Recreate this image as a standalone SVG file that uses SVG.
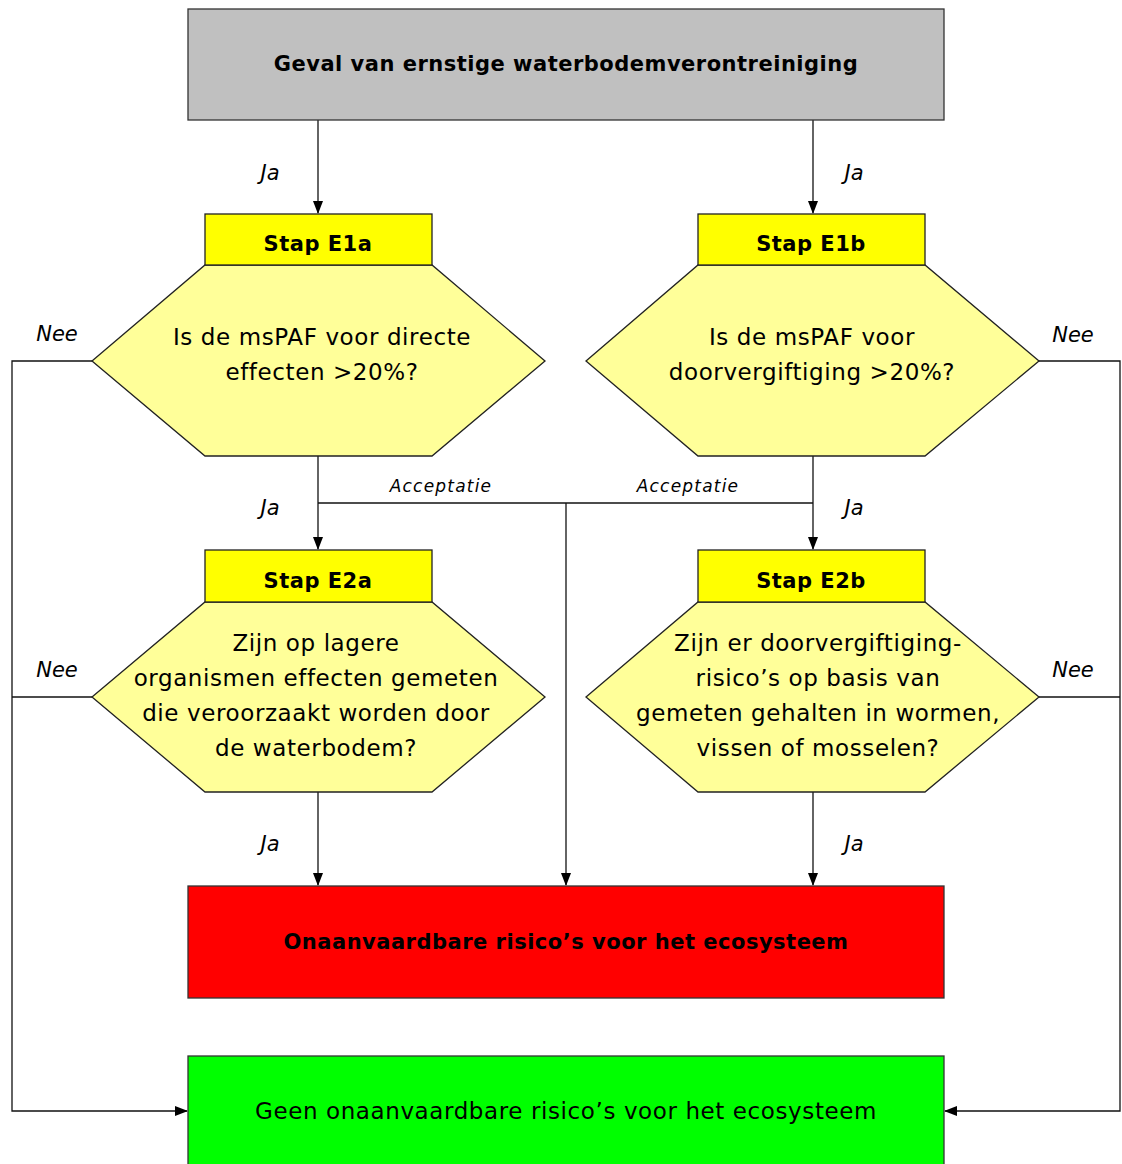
<svg xmlns="http://www.w3.org/2000/svg" width="1122" height="1164" viewBox="0 0 1122 1164">
<style>
.box{stroke:#333;stroke-width:1.3}
.hex{fill:#ffff99;stroke:#222;stroke-width:1.3}
.step{fill:#ffff00;stroke:#222;stroke-width:1.3}
.ln{fill:none;stroke:#111;stroke-width:1.3}
text{font-family:"DejaVu Sans","Liberation Sans",sans-serif;fill:#000;text-anchor:middle}
.t{font-size:23px;letter-spacing:0.6px}
.b{font-size:21px;font-weight:bold;letter-spacing:0.5px}
.lab{font-size:21px;font-style:italic}
.acc{font-size:17px;font-style:italic;letter-spacing:1.2px}
</style>
<defs>
<marker id="ar" markerWidth="13" markerHeight="10" refX="12" refY="5" orient="auto" markerUnits="userSpaceOnUse">
<path d="M0,0 L13,5 L0,10 Z" fill="#000"/>
</marker>
</defs>
<rect width="1122" height="1164" fill="#fff"/>
<g id="connectors">
<path class="ln" d="M318,120 V213" marker-end="url(#ar)"/>
<path class="ln" d="M813,120 V213" marker-end="url(#ar)"/>
<path class="ln" d="M318,456 V549" marker-end="url(#ar)"/>
<path class="ln" d="M813,456 V549" marker-end="url(#ar)"/>
<path class="ln" d="M318,503 H813"/>
<path class="ln" d="M566,503 V885" marker-end="url(#ar)"/>
<path class="ln" d="M318,792 V885" marker-end="url(#ar)"/>
<path class="ln" d="M813,792 V885" marker-end="url(#ar)"/>
<path class="ln" d="M92,361 H12 V1111 H187" marker-end="url(#ar)"/>
<path class="ln" d="M92,697 H12"/>
<path class="ln" d="M1039,361 H1120 V1111 H945" marker-end="url(#ar)"/>
<path class="ln" d="M1039,697 H1120"/>
<text class="lab" x="270" y="180">Ja</text>
<text class="lab" x="854" y="180">Ja</text>
<text class="lab" x="57" y="341">Nee</text>
<text class="lab" x="1073" y="342">Nee</text>
<text class="acc" x="441" y="492">Acceptatie</text>
<text class="acc" x="688" y="492">Acceptatie</text>
<text class="lab" x="270" y="515">Ja</text>
<text class="lab" x="854" y="515">Ja</text>
<text class="lab" x="57" y="677">Nee</text>
<text class="lab" x="1073" y="677">Nee</text>
<text class="lab" x="270" y="851">Ja</text>
<text class="lab" x="854" y="851">Ja</text>
</g>
<g id="start">
<rect class="box" x="188" y="9" width="756" height="111" fill="#c0c0c0"/>
<text class="b" x="566" y="71">Geval van ernstige waterbodemverontreiniging</text>
</g>
<g id="e1a">
<polygon class="hex" points="205,265 432,265 545,361 432,456 205,456 92,361"/>
<rect class="step" x="205" y="214" width="227" height="51"/>
<text class="b" x="318" y="251">Stap E1a</text>
<text class="t" x="322" y="345">Is de msPAF voor directe</text>
<text class="t" x="322" y="380">effecten &gt;20%?</text>
</g>
<g id="e1b">
<polygon class="hex" points="698,265 925,265 1039,361 925,456 698,456 586,361"/>
<rect class="step" x="698" y="214" width="227" height="51"/>
<text class="b" x="811" y="251">Stap E1b</text>
<text class="t" x="812" y="345">Is de msPAF voor</text>
<text class="t" x="812" y="380">doorvergiftiging &gt;20%?</text>
</g>
<g id="e2a">
<polygon class="hex" points="205,602 432,602 545,697 432,792 205,792 92,697"/>
<rect class="step" x="205" y="550" width="227" height="52"/>
<text class="b" x="318" y="588">Stap E2a</text>
<text class="t" x="316" y="651">Zijn op lagere</text>
<text class="t" x="316" y="686">organismen effecten gemeten</text>
<text class="t" x="316" y="721">die veroorzaakt worden door</text>
<text class="t" x="316" y="756">de waterbodem?</text>
</g>
<g id="e2b">
<polygon class="hex" points="698,602 925,602 1039,697 925,792 698,792 586,697"/>
<rect class="step" x="698" y="550" width="227" height="52"/>
<text class="b" x="811" y="588">Stap E2b</text>
<text class="t" x="818" y="651">Zijn er doorvergiftiging-</text>
<text class="t" x="818" y="686">risico’s op basis van</text>
<text class="t" x="818" y="721">gemeten gehalten in wormen,</text>
<text class="t" x="818" y="756">vissen of mosselen?</text>
</g>
<g id="onaanvaardbaar">
<rect class="box" x="188" y="886" width="756" height="112" fill="#ff0000"/>
<text class="b" x="566" y="949">Onaanvaardbare risico’s voor het ecosysteem</text>
</g>
<g id="geen">
<rect class="box" x="188" y="1056" width="756" height="112" fill="#00ff00"/>
<text class="t" x="566" y="1119">Geen onaanvaardbare risico’s voor het ecosysteem</text>
</g>
</svg>
